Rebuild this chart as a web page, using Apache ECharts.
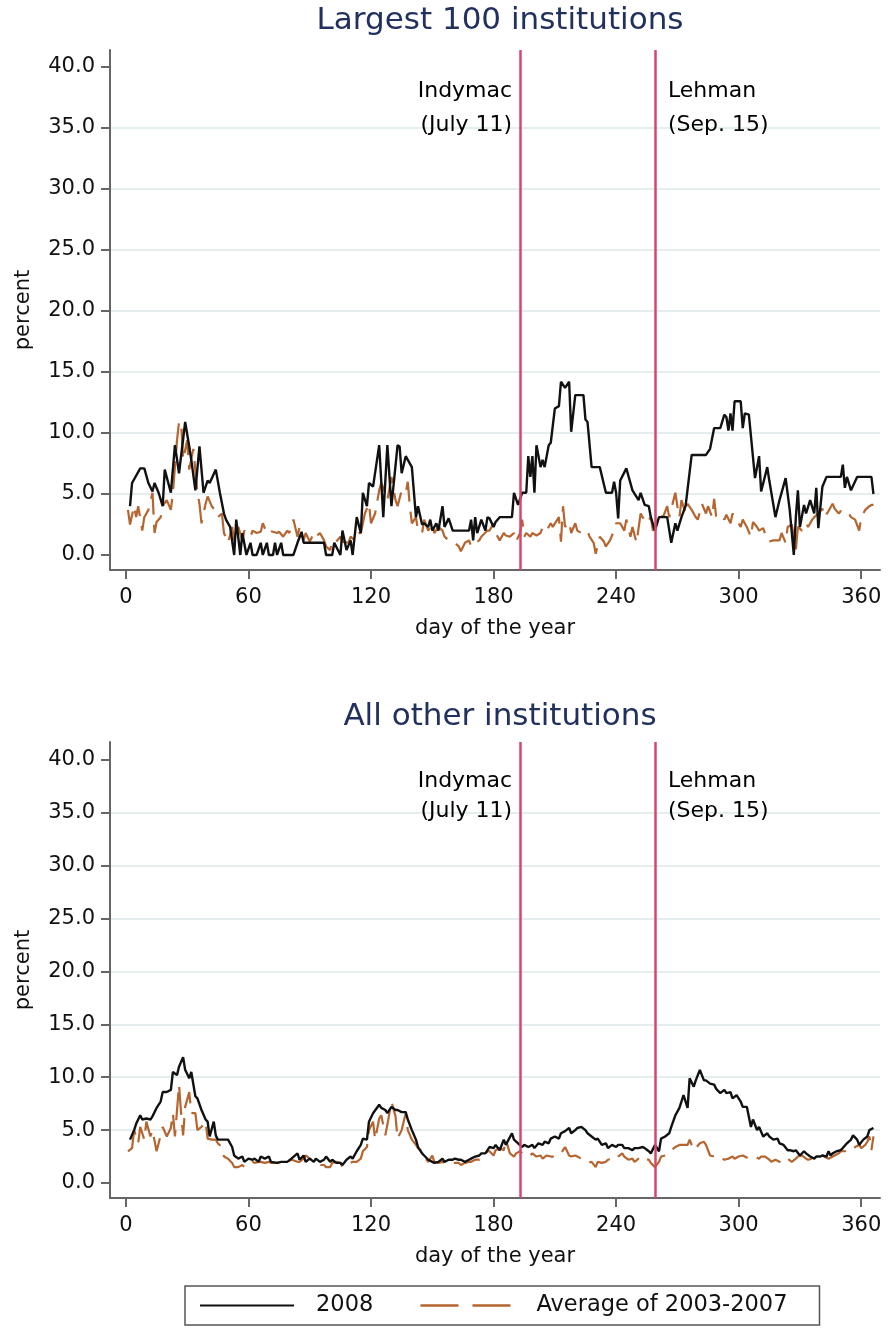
<!DOCTYPE html>
<html>
<head>
<meta charset="utf-8">
<script src="https://cdn.jsdelivr.net/npm/echarts@6/dist/echarts.min.js"></script>
<style>
  html, body { margin: 0; padding: 0; background: #fff; }
  #container { width: 888px; height: 1328px; }
</style>
</head>
<body>
<div id="container"></div>
<script>
// [day of the year, percent]
const largest2008 = [[2,4.0],[3,5.9],[7,7.1],[9,7.1],[11,5.9],[13,5.2],[14,5.9],[16,5.1],[18,4.0],[19,7.0],[22,5.1],[24,9.0],[26,6.7],[29,10.9],[31,8.9],[32,7.8],[34,5.3],[36,8.9],[38,5.1],[40,6.1],[41,5.9],[44,7.0],[46,5.1],[48,3.4],[49,2.9],[51,2.3],[53,0],[54,2.9],[56,0],[57,1.8],[59,0],[61,1.0],[62,0],[64,0],[66,1.0],[67,0],[69,1.0],[70,0],[72,0],[73,1.0],[74,0],[76,1.0],[77,0],[79,0],[82,0],[84,1.0],[86,1.9],[87,1.0],[97,1.0],[98,0],[101,0],[102,1.0],[105,0],[106,2.0],[108,0.4],[110,1.2],[111,0],[113,3.1],[115,1.8],[116,5.1],[118,4.0],[119,5.9],[121,5.6],[124,9.0],[126,3.1],[128,9.0],[130,4.0],[133,9.0],[134,8.9],[135,6.7],[137,8.1],[138,7.8],[140,7.2],[142,3.1],[143,4.0],[145,2.5],[146,2.6],[148,2.3],[149,2.9],[150,2.0],[152,2.6],[153,2.0],[155,4.0],[156,2.3],[158,3.0],[160,2.0],[168,2.0],[169,2.9],[170,1.2],[171,3.1],[172,1.8],[174,2.9],[176,2.0],[177,3.1],[178,3.0],[180,2.3],[181,2.7],[183,3.1],[189,3.1],[190,5.1],[192,4.1],[194,5.1],[196,5.1],[197,8.1],[198,6.4],[199,8.1],[200,5.1],[201,9.0],[203,7.2],[204,7.8],[205,7.2],[207,9.0],[208,9.2],[210,12.0],[212,12.2],[213,14.2],[215,13.7],[217,14.2],[218,10.1],[220,13.1],[224,13.1],[225,11.1],[226,10.9],[228,7.2],[232,7.2],[235,5.1],[238,5.1],[239,6.0],[240,5.1],[241,3.0],[242,6.1],[245,7.1],[248,5.3],[251,4.5],[252,5.1],[254,4.1],[256,4.0],[257,3.1],[259,2.0],[261,3.1],[265,3.1],[267,1.0],[269,2.6],[270,2.0],[272,3.1],[274,4.0],[277,8.2],[284,8.2],[286,8.7],[288,10.4],[291,10.4],[293,11.5],[294,11.3],[295,10.2],[296,11.6],[297,10.2],[298,12.6],[301,12.6],[302,10.4],[303,11.6],[305,11.5],[308,6.3],[310,8.1],[311,5.2],[314,7.2],[315,6.1],[318,3.1],[320,4.5],[323,6.3],[325,3.7],[327,0],[328,3.1],[329,5.3],[330,2.3],[332,4.1],[333,3.4],[335,4.5],[337,3.4],[338,5.5],[339,2.2],[341,5.6],[343,6.4],[350,6.4],[351,7.4],[352,5.5],[353,6.4],[355,5.3],[358,6.4],[364,6.4],[365,6.4],[366,5.0]];

const largestAvg = [[1,3.7],[2,2.5],[4,4.0],[5,3.1],[6,4.0],[8,2.0],[9,3.1],[11,3.7],[13,5.1],[14,1.8],[15,2.7],[17,3.1],[18,4.0],[20,4.5],[22,3.7],[23,5.1],[25,9.4],[26,10.9],[27,10.9],[28,7.8],[30,9.4],[31,7.0],[33,8.7],[35,5.1],[36,4.2],[37,2.6],[39,4.2],[40,4.8],[42,4.0],[44,3.6],[45,3.1],[47,3.4],[48,1.8],[50,1.0],[52,2.3],[53,1.2],[55,2.3],[57,1.2],[58,2.0],[61,1.5],[62,2.0],[64,1.8],[66,1.9],[67,2.6],[69,1.8],[70,2.0],[72,1.9],[74,1.8],[75,1.9],[77,1.5],[79,2.0],[80,1.8],[82,2.9],[84,1.5],[85,2.3],[87,1.2],[88,1.8],[90,1.1],[92,1.8],[93,1.5],[95,1.8],[97,1.2],[98,0.7],[100,0.4],[101,1.2],[103,1.1],[105,1.5],[106,1.1],[109,1.0],[110,1.5],[112,1.2],[114,1.8],[115,1.8],[117,3.4],[119,4.2],[120,2.6],[122,3.4],[124,5.3],[125,5.9],[127,5.1],[128,4.5],[130,6.4],[132,4.5],[133,4.0],[135,5.3],[137,5.1],[138,6.0],[139,4.0],[140,2.6],[142,3.1],[143,2.0],[145,1.8],[146,2.9],[148,2.0],[150,2.6],[151,1.8],[153,2.3],[155,2.0],[156,1.5],[158,1.2],[160,1.1],[161,1.0],[163,0.7],[164,0.3],[166,1.0],[168,1.2],[169,0.7],[171,1.0],[173,1.2],[174,1.5],[177,2.0],[178,2.0],[180,2.6],[181,1.8],[183,1.2],[185,1.8],[186,1.6],[188,1.5],[190,1.8],[191,1.1],[193,1.8],[194,2.9],[195,1.5],[196,1.8],[198,1.5],[199,1.8],[201,1.6],[203,1.8],[204,2.3],[206,2.0],[208,2.6],[209,2.3],[212,3.1],[213,1.1],[214,4.0],[215,2.3],[217,2.7],[218,1.8],[220,2.6],[221,2.0],[223,1.8],[226,2.0],[227,1.5],[229,1.0],[230,0.1],[232,1.5],[234,1.1],[235,0.7],[237,1.2],[239,2.0],[240,2.6],[242,2.6],[244,2.0],[245,2.9],[247,1.5],[248,2.3],[250,1.0],[252,3.4],[253,3.1],[255,2.6],[257,3.1],[258,2.0],[260,2.6],[261,3.4],[263,3.1],[265,4.0],[266,3.1],[269,5.1],[270,4.0],[271,3.1],[272,4.5],[274,3.4],[275,4.2],[277,3.7],[279,3.1],[280,2.9],[282,4.2],[284,3.4],[285,4.0],[287,3.1],[288,4.6],[289,3.1],[291,3.3],[293,2.9],[294,3.3],[296,2.6],[297,3.4],[299,2.9],[301,2.3],[302,2.9],[304,2.3],[306,1.5],[307,2.7],[309,2.3],[310,2.0],[312,2.2],[314,1.2],[315,1.1],[317,1.2],[319,1.2],[320,1.2],[321,1.8],[323,1.0],[324,2.3],[326,2.5],[328,0.4],[329,2.3],[331,2.0],[333,2.6],[334,2.3],[336,2.9],[337,3.1],[339,3.4],[341,3.8],[342,3.1],[344,3.6],[346,4.2],[347,3.8],[349,3.4],[350,3.6],[352,3.3],[354,3.4],[355,3.1],[357,2.9],[359,2.0],[360,3.1],[362,3.7],[364,4.0],[365,4.1],[366,4.1]];

const others2008 = [[2,4.1],[4,5.0],[5,5.6],[7,6.4],[8,6.0],[10,6.1],[12,6.0],[13,6.3],[15,7.1],[17,7.7],[18,8.6],[20,8.6],[22,8.8],[23,10.5],[25,10.2],[26,11.0],[28,11.9],[29,10.7],[31,9.9],[32,10.5],[34,8.2],[35,8.0],[37,6.9],[39,6.0],[40,5.8],[41,4.4],[43,5.8],[44,4.5],[45,4.1],[48,4.1],[50,4.1],[52,3.4],[53,2.6],[55,2.3],[57,2.5],[58,2.0],[60,2.3],[62,2.2],[63,2.3],[65,2.0],[66,2.5],[68,2.3],[70,2.5],[71,2.0],[74,1.9],[76,2.0],[79,2.0],[81,2.3],[84,2.8],[85,2.2],[87,2.6],[88,2.0],[90,2.3],[92,2.0],[93,2.3],[95,2.0],[97,2.2],[98,2.5],[100,2.0],[101,2.2],[103,1.9],[105,1.9],[106,1.7],[108,2.2],[110,2.5],[111,2.3],[113,3.0],[115,3.6],[116,4.2],[118,4.1],[119,5.8],[121,6.6],[124,7.4],[125,7.1],[127,6.9],[128,6.6],[130,7.2],[132,6.9],[133,6.9],[135,6.7],[137,6.7],[138,6.0],[140,5.0],[142,4.1],[143,3.4],[145,2.8],[146,2.6],[148,2.2],[150,2.0],[151,1.9],[153,2.0],[155,2.3],[156,2.0],[158,2.2],[160,2.2],[161,2.3],[163,2.2],[164,2.2],[166,2.0],[168,2.2],[169,2.3],[171,2.5],[173,2.6],[174,2.8],[176,2.8],[178,3.4],[180,3.3],[181,3.6],[183,3.1],[185,4.1],[186,3.6],[189,4.7],[190,4.1],[192,3.75],[194,3.4],[195,3.6],[197,3.4],[199,3.6],[200,3.3],[202,3.75],[204,3.6],[205,3.9],[207,3.75],[208,4.2],[210,4.4],[212,4.2],[213,4.7],[215,4.9],[217,5.2],[218,4.7],[220,5.0],[221,5.2],[223,5.3],[225,5.0],[226,4.7],[228,4.4],[230,4.1],[231,4.2],[233,3.6],[235,3.75],[236,3.3],[238,3.6],[240,3.4],[241,3.6],[243,3.6],[244,3.3],[246,3.3],[248,3.1],[249,3.3],[251,3.3],[253,3.4],[254,3.3],[256,3.0],[257,2.8],[259,3.6],[261,3.0],[262,4.2],[264,4.4],[266,4.7],[267,5.3],[269,6.4],[271,7.1],[273,8.3],[275,7.1],[276,9.9],[278,9.1],[279,9.7],[281,10.7],[283,9.7],[284,9.7],[286,9.4],[288,9.3],[289,8.9],[291,8.5],[293,8.8],[294,8.5],[296,8.6],[297,8.0],[299,8.3],[301,7.7],[302,7.2],[304,7.2],[306,5.3],[307,6.0],[309,5.0],[310,5.3],[312,4.4],[314,4.7],[315,4.4],[317,4.1],[319,4.2],[320,3.75],[322,3.6],[324,3.1],[325,3.1],[327,3.0],[328,3.1],[330,2.6],[332,3.0],[333,2.8],[335,2.5],[337,2.3],[338,2.5],[340,2.5],[341,2.6],[343,2.5],[344,3.0],[345,2.6],[346,2.8],[348,3.0],[350,3.1],[351,3.3],[353,3.75],[355,4.1],[356,4.5],[358,4.1],[359,3.6],[361,4.1],[363,4.4],[364,5.0],[366,5.2]];

const othersAvg = [[1,3.0],[3,3.3],[4,5.0],[6,3.75],[7,5.3],[9,4.1],[10,5.8],[12,4.4],[13,5.0],[15,3.0],[17,4.5],[18,5.3],[20,4.4],[22,5.2],[23,6.6],[24,4.4],[26,9.3],[27,6.6],[28,4.5],[29,7.2],[31,8.6],[32,6.6],[34,6.6],[35,5.0],[37,5.3],[39,5.8],[40,4.2],[42,4.1],[44,4.1],[45,3.75],[47,3.4],[48,2.5],[50,2.3],[52,1.9],[53,1.5],[55,1.5],[57,1.7],[58,1.5],[60,1.9],[62,2.0],[63,1.9],[65,2.0],[66,2.0],[68,1.9],[70,2.0],[71,1.9],[74,1.9],[76,1.9],[79,2.0],[81,2.2],[84,2.0],[85,2.0],[87,2.3],[88,2.6],[90,2.3],[92,2.0],[93,1.9],[95,1.7],[97,1.7],[98,1.5],[100,1.5],[101,1.9],[103,2.0],[105,1.9],[106,1.5],[108,1.7],[110,1.9],[111,2.0],[113,2.0],[115,2.3],[116,3.0],[118,3.4],[119,5.0],[121,5.8],[122,4.1],[124,6.1],[125,6.4],[127,4.5],[128,5.5],[130,7.7],[132,6.3],[133,4.2],[135,5.0],[137,6.6],[138,5.0],[140,4.1],[142,3.6],[143,3.3],[145,3.0],[146,2.5],[148,2.0],[150,2.6],[151,2.0],[153,1.9],[155,2.0],[156,1.9],[158,2.0],[160,1.9],[161,1.9],[163,1.9],[164,1.7],[166,1.9],[168,2.0],[169,2.0],[171,2.2],[173,2.2],[174,2.3],[176,2.6],[177,3.0],[178,3.0],[180,2.6],[181,3.1],[183,3.3],[185,3.1],[186,4.1],[188,2.8],[190,2.5],[191,2.8],[193,3.0],[195,2.6],[196,2.5],[198,2.6],[199,2.8],[201,2.5],[203,2.6],[204,2.3],[206,2.6],[208,2.5],[209,2.5],[211,2.5],[213,2.8],[214,3.1],[215,3.4],[217,2.6],[218,2.5],[220,2.6],[221,2.5],[223,2.3],[225,2.0],[226,1.9],[228,2.0],[230,1.5],[231,2.0],[233,1.9],[235,2.0],[236,2.2],[238,2.3],[240,2.2],[241,2.5],[243,2.8],[244,2.5],[246,2.2],[248,2.3],[249,2.0],[251,2.3],[253,2.0],[254,2.2],[256,2.2],[257,1.9],[259,1.5],[261,2.0],[262,2.5],[264,2.6],[266,2.8],[267,3.1],[269,3.4],[271,3.6],[273,3.6],[275,3.6],[276,4.1],[278,3.1],[279,3.3],[281,3.75],[283,3.9],[284,3.6],[286,2.6],[288,2.5],[290,2.6],[292,2.3],[293,2.2],[295,2.3],[297,2.5],[298,2.3],[300,2.5],[302,2.6],[303,2.5],[305,2.3],[306,2.3],[308,2.5],[310,2.3],[311,2.5],[313,2.5],[315,2.2],[316,2.0],[318,2.2],[320,2.0],[321,1.9],[323,2.0],[324,2.3],[326,2.0],[328,2.3],[329,2.5],[331,2.6],[333,2.3],[334,2.2],[336,2.3],[337,2.3],[339,2.5],[341,2.6],[342,2.5],[344,2.3],[346,2.5],[347,2.6],[349,2.8],[350,3.0],[352,3.0],[354,3.1],[355,3.0],[357,3.4],[359,3.6],[360,3.3],[362,3.6],[363,3.9],[364,4.4],[365,3.1],[366,4.4]];

const xTicks = [0, 60, 120, 180, 240, 300, 360];
const yTicks = [0, 5, 10, 15, 20, 25, 30, 35, 40];
const eventDays = [193, 259];
const eventLabels = ['Indymac\n(July 11)', 'Lehman\n(Sep. 15)'];
const panelTitles = ['Largest 100 institutions', 'All other institutions'];
const seriesNames = ['2008', 'Average of 2003-2007'];

const FONT = 'DejaVu Sans';
const AXIS_GRAY = '#666';
const EVENT_RED = '#d6466f';
const BROWN = '#b5652f';

var chart = echarts.init(document.getElementById('container'), null, { renderer: 'canvas' });

// two panels, same layout
const panels = [
  { data08: largest2008, dataAvg: largestAvg, grid: { left: 110, top: 50, width: 770, height: 520 }, yMin: -1.23, yMax: 41.39, titleTop: 5, lineH: 34 },
  { data08: others2008, dataAvg: othersAvg, grid: { left: 110, top: 742, width: 770, height: 456 }, yMin: -1.42, yMax: 41.7, titleTop: 701, lineH: 30 }
];

const xAxes = [], yAxes = [], series = [], titles = [];

panels.forEach(function (p, i) {
  titles.push({
    text: panelTitles[i],
    left: 500, top: p.titleTop, textAlign: 'center', padding: 0,
    textStyle: { fontFamily: FONT, fontSize: 31, fontWeight: 'normal', color: '#22305e' }
  });
  xAxes.push({
    gridIndex: i, type: 'value', min: -7.8, max: 369.2,
    name: 'day of the year', nameLocation: 'middle', nameGap: 48,
    nameTextStyle: { fontFamily: FONT, fontSize: 21, color: '#111' },
    axisLine: { onZero: false, lineStyle: { color: AXIS_GRAY, width: 2 } },
    axisTick: { customValues: xTicks, length: 9, lineStyle: { color: AXIS_GRAY, width: 2 } },
    axisLabel: { customValues: xTicks, margin: 17, fontFamily: FONT, fontSize: 21, color: '#111' },
    splitLine: { show: false }
  });
  yAxes.push({
    gridIndex: i, type: 'value', min: p.yMin, max: p.yMax, splitNumber: 8,
    name: 'percent', nameLocation: 'middle', nameGap: 76,
    nameTextStyle: { fontFamily: FONT, fontSize: 21, color: '#111' },
    axisLine: { show: true, onZero: false, lineStyle: { color: AXIS_GRAY, width: 2 } },
    axisTick: { show: true, customValues: yTicks, length: 9, lineStyle: { color: AXIS_GRAY, width: 2 } },
    axisLabel: {
      customValues: yTicks, margin: 15, fontFamily: FONT, fontSize: 21, color: '#111',
      formatter: function (v) { return v.toFixed(1); }
    },
    splitLine: { show: true, showMinLine: false, showMaxLine: false, lineStyle: { color: '#e5eeee', width: 2 } }
  });

  series.push({
    name: seriesNames[0], type: 'line', xAxisIndex: i, yAxisIndex: i,
    data: p.data08, symbol: 'none', z: 3,
    lineStyle: { color: '#111', width: 2.4 }, itemStyle: { color: '#111' }
  });
  series.push({
    name: seriesNames[1], type: 'line', xAxisIndex: i, yAxisIndex: i,
    data: p.dataAvg, symbol: 'none', z: 2,
    lineStyle: { color: BROWN, width: 2.2, type: [28, 10] }, itemStyle: { color: BROWN },
    markLine: {
      silent: true, symbol: ['none', 'none'], label: { show: false },
      lineStyle: { type: 'solid', color: EVENT_RED, width: 2.5 },
      data: eventDays.map(function (d) { return { xAxis: d }; })
    }
  });
  // event annotations
  series.push({
    type: 'scatter', xAxisIndex: i, yAxisIndex: i, silent: true, symbolSize: 0,
    itemStyle: { opacity: 1 },
    data: eventDays.map(function (d, k) {
      return {
        value: [d, 36.6],
        label: {
          show: true, formatter: eventLabels[k],
          position: k === 0 ? 'left' : 'right', distance: k === 0 ? 8 : 13,
          align: k === 0 ? 'right' : 'left',
          fontFamily: FONT, fontSize: 22, color: '#000', opacity: 1, lineHeight: p.lineH
        }
      };
    })
  });
});

var option = {
  backgroundColor: '#fff',
  animation: false,
  title: titles,
  grid: panels.map(function (p) { return p.grid; }),
  xAxis: xAxes,
  yAxis: yAxes,
  legend: {
    data: [
      { name: seriesNames[0] },
      { name: seriesNames[1], lineStyle: { color: BROWN, width: 2.4, type: [38, 14] } }
    ],
    left: 185, top: 1286,
    itemWidth: 94, itemHeight: 14, itemGap: 46,
    padding: [8, 32, 8, 14],
    borderColor: '#555', borderWidth: 1.5,
    itemStyle: { opacity: 0 },
    textStyle: { fontFamily: FONT, fontSize: 22.5, color: '#111', padding: [0, 0, 0, 17] }
  },
  series: series
};

chart.setOption(option);
</script>
</body>
</html>
